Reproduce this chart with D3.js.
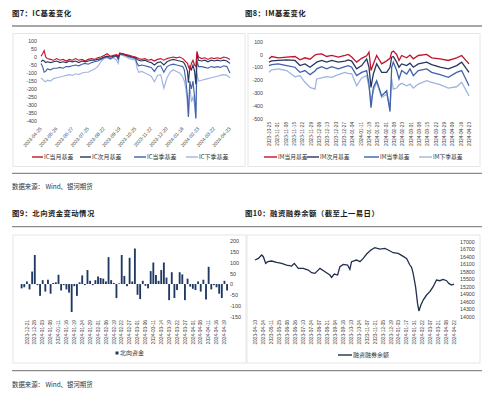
<!DOCTYPE html>
<html>
<head>
<meta charset="utf-8">
<script src="https://cdn.jsdelivr.net/npm/d3@7"></script>
<style>
  body { margin: 0; background: #fff; }
  svg { display: block; font-family: "Liberation Sans", Arial, sans-serif; }
  .cjk { font-family: "Noto Sans CJK SC", sans-serif; }
</style>
</head>
<body>
<svg id="canvas" width="499" height="393"></svg>
<script>
// ---------- 图7 IC基差 ----------
var icTicks = ["2023-04-25","2023-05-26","2023-06-27","2023-07-25","2023-08-22","2023-09-19","2023-10-25",
               "2023-11-22","2023-12-20","2024-01-18","2024-02-23","2024-03-22","2024-04-23"];
// x positions in tick units
var icX = [0,0.1,0.2,0.3,0.4,0.6,0.8,1.0,1.2,1.4,1.6,1.8,2.0,2.2,2.4,2.6,2.8,3.0,3.2,3.4,3.6,3.8,4.0,4.2,4.4,4.6,4.8,4.9,5.0,
           5.2,5.4,5.6,5.8,6.0,6.1,6.2,6.4,6.6,6.8,7.0,7.2,7.4,7.6,7.8,8.0,8.2,8.4,8.6,8.8,9.0,9.1,9.2,9.3,9.36,9.45,9.55,
           9.65,9.75,9.83,9.9,10.0,10.2,10.4,10.6,10.8,11.0,11.2,11.4,11.6,11.8,12.0];
var icCur = [5,20,40,0,-10,-15,-20,-10,-20,-15,-25,-15,-20,-10,-20,-15,-25,-15,-10,-15,-5,0,10,20,5,10,15,5,25,20,
             15,10,5,0,-5,-10,-15,-10,-20,-15,-25,-15,-10,-20,-10,-5,0,-5,0,-10,-20,-30,-40,-60,-80,-40,-20,-50,-60,35,
             0,-10,-5,-15,-5,-10,-5,-10,0,-5,-15];
var icNext = [-30,-20,-25,-35,-30,-35,-30,-25,-35,-30,-35,-25,-30,-25,-35,-25,-30,-25,-20,-20,-15,-10,0,5,0,5,10,-5,20,20,
              10,5,0,-5,-15,-20,-25,-20,-30,-35,-50,-35,-30,-50,-30,-20,-15,-20,-25,-30,-40,-60,-90,-160,-60,-80,-50,-90,-170,20,
              -20,-25,-20,-30,-20,-25,-20,-25,-20,-25,-40];
var icQtr = [-40,-60,-95,-90,-75,-80,-70,-70,-65,-70,-60,-60,-55,-50,-55,-45,-40,-45,-35,-30,-25,-15,-5,0,-10,0,5,-15,20,15,
             10,0,-5,-10,-40,-55,-50,-55,-60,-65,-90,-60,-55,-95,-60,-50,-45,-50,-55,-60,-80,-150,-250,-375,-150,-200,-150,-250,-385,-20,
             -60,-60,-65,-70,-60,-65,-60,-65,-55,-60,-100];
var icNQtr = [-130,-140,-150,-155,-145,-150,-135,-130,-125,-120,-115,-110,-115,-105,-110,-100,-95,-95,-85,-75,-60,-30,-10,-5,-15,-5,-20,-40,15,10,
              0,-10,-15,-20,-70,-95,-90,-100,-110,-120,-155,-115,-110,-195,-130,-95,-80,-90,-100,-125,-150,-200,-300,-370,-180,-280,-250,-300,-380,-100,
              -150,-145,-140,-135,-130,-125,-120,-115,-110,-115,-130];

// ---------- 图8 IM基差 ----------
var imTicks = ["2023-10-25","2023-11-01","2023-11-08","2023-11-15","2023-11-22","2023-11-29","2023-12-06","2023-12-13",
               "2023-12-20","2023-12-27","2024-01-04","2024-01-11","2024-01-18","2024-01-25","2024-02-01","2024-02-08",
               "2024-02-23","2024-03-01","2024-03-08","2024-03-15","2024-03-22","2024-03-29","2024-04-09","2024-04-16","2024-04-23"];
var imX = [0,0.32,1.12,2.12,3.12,3.72,4.32,4.92,5.52,5.72,6.32,6.92,7.52,8.32,9.12,9.52,9.92,10.52,11.12,11.72,
           12.0,12.24,12.52,12.92,13.52,14.12,14.52,14.72,14.92,15.32,15.6,15.92,16.52,16.92,17.32,17.92,18.92,19.52,20.52,21.52,
           22.52,23.12,24.0];
var imCur = [-34,-16,-26,-21,-16,-42,-26,-37,-5,0,5,-16,-8,-21,-8,0,-20,-60,-30,-10,
             18,-126,-74,-8,-74,-50,-30,18,26,0,-47,-8,-26,-5,-34,-8,0,-26,-34,-47,-26,-8,-74];
var imNext = [-60,-50,-47,-42,-47,-87,-74,-100,-70,-60,-47,-60,-47,-60,-52,-42,-52,-113,-87,-35,
              -100,-258,-153,-74,-140,-140,-100,-21,-16,-60,-100,-74,-87,-68,-100,-74,-60,-79,-100,-113,-87,-60,-140];
var imQtr = [-87,-80,-74,-87,-100,-140,-126,-158,-130,-113,-95,-113,-95,-113,-95,-87,-100,-166,-140,-126,
             -230,-416,-258,-205,-324,-284,-447,-100,-60,-126,-192,-126,-153,-113,-166,-126,-113,-140,-158,-179,-140,-126,-245];
var imNQtr = [-140,-120,-113,-126,-174,-166,-218,-258,-271,-192,-184,-174,-179,-158,-140,-150,-150,-245,-184,-166,
              -258,-363,-284,-218,-337,-310,-416,-192,-271,-263,-240,-226,-245,-232,-263,-232,-205,-218,-237,-263,-253,-218,-324];

// ---------- 图9 北向资金 ----------
var nfTicks = ["2023-12-21","2023-12-28","2024-01-03","2024-01-08","2024-01-11","2024-01-16","2024-01-19","2024-01-24",
               "2024-01-29","2024-02-01","2024-02-06","2024-02-19","2024-02-22","2024-02-27","2024-03-01","2024-03-06",
               "2024-03-11","2024-03-14","2024-03-19","2024-03-22","2024-03-27","2024-04-01","2024-04-08","2024-04-11",
               "2024-04-16","2024-04-19"];
var nfFlow = [-20,-15,12,-25,58,135,-5,-55,18,-35,20,-45,5,8,43,-30,-5,-25,-40,-130,
              -10,-55,8,40,-5,65,15,-5,18,35,28,25,12,125,18,5,-65,3,135,38,
              -10,122,12,165,-50,-70,15,-8,-20,60,100,42,15,65,100,30,-75,55,-65,-28,
              55,45,-75,25,-12,-22,-28,12,-35,20,-72,80,-25,-5,-15,-45,-65,15,-30];

// ---------- 图10 融资融券余额 ----------
var mgTicks = ["2023-04-10","2023-04-24","2023-05-11","2023-05-25","2023-06-08","2023-06-26","2023-07-10","2023-07-24",
               "2023-08-07","2023-08-21","2023-09-04","2023-09-18","2023-10-10","2023-10-24","2023-11-07","2023-11-21",
               "2023-12-05","2023-12-19","2024-01-03","2024-01-17","2024-01-31","2024-02-22","2024-03-07","2024-03-21",
               "2024-04-08","2024-04-22"];
var mgX = [0,0.42,0.84,1.05,1.34,1.59,2.09,2.72,3.35,3.97,4.60,4.94,5.44,6.07,6.69,7.11,7.53,8.16,8.79,9.41,
           9.62,9.96,10.38,10.67,11.09,11.63,11.92,12.13,12.76,13.18,13.60,14.02,14.56,15.06,15.69,16.32,16.74,17.36,17.99,18.41,
           19.04,19.46,19.67,19.87,20.17,20.42,20.59,20.84,21.13,21.55,21.97,22.38,22.80,23.22,23.64,24.06,24.35,24.69,25];
var mgBal = [16267,16333,16467,16400,16133,16200,16227,16173,16133,16067,16027,16133,15933,15933,15867,15760,15733,15933,15800,15667,
             15573,15707,15667,16000,16093,16067,15893,16200,16267,16200,16333,16507,16667,16760,16707,16733,16667,16560,16533,16453,
             16333,16067,15973,15733,15200,14533,14230,14467,14667,14867,15000,15200,15467,15440,15493,15440,15333,15267,15307];

var red = "#c0142c", navy = "#26365f", mid = "#4062a8", light = "#9fb5df", bar = "#1f3864";
var svg = d3.select("#canvas");

// headings, rules, frames
function heading(x, y, t) {
    svg.append("text").attr("class", "cjk").attr("x", x).attr("y", y)
        .style("font-size", "7.4px").style("font-weight", "bold").style("letter-spacing", "0.4px")
        .attr("fill", "#1a1a1a").text(t);
}
heading(12, 16, "图7：IC基差变化");
heading(245, 16, "图8：IM基差变化");
heading(12, 216, "图9：北向资金变动情况");
heading(245, 216, "图10：融资融券余额（截至上一易日）");

[26, 173.3, 226.7, 370.7].forEach(function (y) {
    svg.append("line").attr("x1", 12).attr("x2", 482).attr("y1", y).attr("y2", y)
        .attr("stroke", "#8a8a8a").attr("stroke-width", 1.3);
});
[[13, 33.5, 232, 133], [248, 33.5, 232, 133], [13, 235, 233, 128], [247, 235, 233, 128]].forEach(function (b) {
    svg.append("rect").attr("x", b[0]).attr("y", b[1]).attr("width", b[2]).attr("height", b[3])
        .attr("fill", "none").attr("stroke", "#e6e6e6").attr("stroke-width", 1);
});
[189, 387].forEach(function (y) {
    svg.append("text").attr("class", "cjk").attr("x", 12).attr("y", y).style("font-size", "6.4px")
        .attr("fill", "#333").text("数据来源： Wind、银河期货");
});

function styleAxis(g, size) {
    g.select(".domain").remove();
    g.selectAll("text").attr("fill", "#404040").style("font-size", size + "px")
        .style("font-family", "'Liberation Sans', Arial, sans-serif");
}
function legendLine(x, y, color, label, w, fs) {
    svg.append("line").attr("x1", x).attr("x2", x + w).attr("y1", y).attr("y2", y)
        .attr("stroke", color).attr("stroke-width", 1.4);
    svg.append("text").attr("class", "cjk").attr("x", x + w + 1).attr("y", y).attr("dy", "0.35em")
        .style("font-size", fs + "px").attr("fill", "#333").text(label);
}

// ---------- chart 1 ----------
var x1 = d3.scaleLinear().domain([0, 12]).range([41, 230]);
var y1 = d3.scaleLinear().domain([-400, 100]).range([121, 41]);
svg.append("g").attr("transform", "translate(37,0)")
    .call(d3.axisLeft(y1).tickValues(d3.range(-400, 101, 50)).tickSize(0).tickPadding(0).tickFormat(function (d) { return String(d); }))
    .call(styleAxis, 5.3);
svg.append("g").attr("transform", "translate(0,127)")
    .call(d3.axisBottom(x1).tickValues(d3.range(icTicks.length)).tickSize(0).tickFormat(function (i) { return icTicks[i]; }))
    .call(styleAxis, 4.9)
    .selectAll("text").attr("y", 0).attr("dy", "0.35em").attr("dx", "-0.2em")
    .attr("text-anchor", "end").attr("transform", "rotate(-48)");

var ln1 = d3.line().x(function (d) { return x1(d[0]); }).y(function (d) { return y1(d[1]); });
[[icNQtr, light], [icQtr, mid], [icNext, navy], [icCur, red]].forEach(function (s) {
    svg.append("path").datum(d3.zip(icX, s[0])).attr("d", ln1)
        .attr("fill", "none").attr("stroke", s[1]).attr("stroke-width", 1.15);
});
legendLine(32, 157, red, "IC当月基差", 11, 6);
legendLine(80, 157, navy, "IC次月基差", 11, 6);
legendLine(134, 157, mid, "IC当季基差", 12, 6);
legendLine(186, 157, light, "IC下季基差", 12, 6);

// ---------- chart 2 ----------
var x2 = d3.scaleLinear().domain([0, 24]).range([269, 469]);
var y2 = d3.scaleLinear().domain([-500, 100]).range([118.3, 41.7]);
svg.append("g").attr("transform", "translate(263,0)")
    .call(d3.axisLeft(y2).tickValues(d3.range(-500, 101, 100)).tickSize(0).tickPadding(0).tickFormat(function (d) { return String(d); }))
    .call(styleAxis, 5.3);
svg.append("g").attr("transform", "translate(0,122)")
    .call(d3.axisBottom(x2).tickValues(d3.range(imTicks.length)).tickSize(0).tickFormat(function (i) { return imTicks[i]; }))
    .call(styleAxis, 4.7)
    .selectAll("text").attr("y", 0).attr("x", 0).attr("dy", "0.35em")
    .attr("text-anchor", "end").attr("transform", "rotate(-90)");

var ln2 = d3.line().x(function (d) { return x2(d[0]); }).y(function (d) { return y2(d[1]); });
[[imNQtr, light], [imQtr, mid], [imNext, navy], [imCur, red]].forEach(function (s) {
    svg.append("path").datum(d3.zip(imX, s[0])).attr("d", ln2)
        .attr("fill", "none").attr("stroke", s[1]).attr("stroke-width", 1.3);
});
legendLine(264, 157, red, "IM当月基差", 13, 5.8);
legendLine(307, 157, navy, "IM次月基差", 12, 5.8);
legendLine(364, 157, mid, "IM当季基差", 15, 5.8);
legendLine(419, 157, light, "IM下季基差", 13, 5.8);

// ---------- chart 3 ----------
var x3 = d3.scaleBand().domain(d3.range(nfFlow.length)).range([20.7, 228]).paddingInner(0.3);
var y3 = d3.scaleLinear().domain([-150, 200]).range([316.3, 241]);
svg.append("g").attr("transform", "translate(230,0)")
    .call(d3.axisRight(y3).tickValues(d3.range(-150, 201, 50)).tickSize(0).tickPadding(0).tickFormat(function (d) { return String(d); }))
    .call(styleAxis, 5.5);
svg.selectAll("rect.nf").data(nfFlow).enter().append("rect").attr("class", "nf")
    .attr("x", function (d, i) { return x3(i); })
    .attr("width", x3.bandwidth())
    .attr("y", function (d) { return y3(Math.max(0, d)); })
    .attr("height", function (d) { return Math.abs(y3(d) - y3(0)); })
    .attr("fill", bar);
var nfIdx = nfTicks.map(function (t, j) { return 2 + j * 3; });
svg.append("g").attr("transform", "translate(0,320)")
    .call(d3.axisBottom(x3).tickValues(nfIdx).tickSize(0).tickFormat(function (i) { return nfTicks[(i - 2) / 3]; }))
    .call(styleAxis, 4.8)
    .selectAll("text").attr("y", 0).attr("x", 0).attr("dy", "0.35em")
    .attr("text-anchor", "end").attr("transform", "rotate(-90)");
svg.append("rect").attr("x", 115.5).attr("y", 351.5).attr("width", 3).attr("height", 3).attr("fill", bar);
svg.append("text").attr("class", "cjk").attr("x", 120).attr("y", 353).attr("dy", "0.35em")
    .style("font-size", "6px").attr("fill", "#333").text("北向资金");

// ---------- chart 4 ----------
var x4 = d3.scaleLinear().domain([0, 25]).range([255, 454]);
var y4 = d3.scaleLinear().domain([14000, 17000]).range([316.7, 241.7]);
svg.append("g").attr("transform", "translate(460,0)")
    .call(d3.axisRight(y4).tickValues(d3.range(14000, 17001, 300)).tickSize(0).tickPadding(0).tickFormat(function (d) { return String(d); }))
    .call(styleAxis, 5.3);
svg.append("g").attr("transform", "translate(0,320)")
    .call(d3.axisBottom(x4).tickValues(d3.range(mgTicks.length)).tickSize(0).tickFormat(function (i) { return mgTicks[i]; }))
    .call(styleAxis, 4.8)
    .selectAll("text").attr("y", 0).attr("x", 0).attr("dy", "0.35em")
    .attr("text-anchor", "end").attr("transform", "rotate(-90)");
var ln4 = d3.line().x(function (d) { return x4(d[0]); }).y(function (d) { return y4(d[1]); });
svg.append("path").datum(d3.zip(mgX, mgBal)).attr("d", ln4)
    .attr("fill", "none").attr("stroke", "#222e4e").attr("stroke-width", 1.3);
legendLine(338, 355, "#222e4e", "融资融券余额", 14, 6);
</script>
</body>
</html>
